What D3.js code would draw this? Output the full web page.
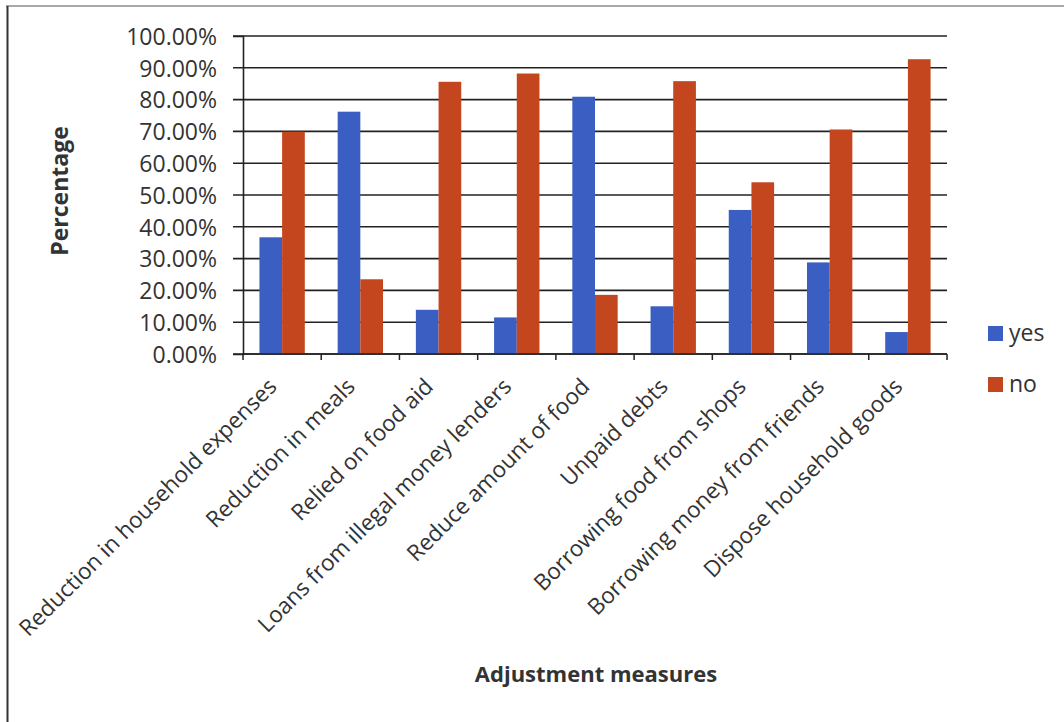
<!DOCTYPE html>
<html>
<head>
<meta charset="utf-8">
<script src="https://cdn.jsdelivr.net/npm/d3@7"></script>
<style>
  body { margin: 0; background: #fff; }
  svg text { font-family: "Open Sans", sans-serif; fill: #333; }
</style>
</head>
<body>
<svg id="drawing_region"></svg>
<script>
// data
const categories = [
  'Reduction in household expenses',
  'Reduction in meals',
  'Relied on food aid',
  'Loans from illegal money lenders',
  'Reduce amount of food',
  'Unpaid debts',
  'Borrowing food from shops',
  'Borrowing money from friends',
  'Dispose household goods'
]
const seriesNames = ['yes', 'no']
const yesValues = [36.7, 76.2, 13.9, 11.5, 80.9, 15.0, 45.3, 28.8, 6.9]
const noValues  = [69.9, 23.5, 85.6, 88.2, 18.6, 85.8, 54.0, 70.6, 92.7]
const yTicks = [0, 10, 20, 30, 40, 50, 60, 70, 80, 90, 100]
const colors = {yes: '#3b5ec2', no: '#c4461f'}

const config = {
  width: 1064,
  height: 722,
  margin: {top: 36, left: 243, right: 117, bottom: 368}
}

const svg = d3.select('#drawing_region')
  .attr('width', config.width)
  .attr('height', config.height)

// scanned page frame
svg.append('line').attr('x1', 6).attr('x2', 1064).attr('y1', 6).attr('y2', 6)
  .attr('stroke', '#555').attr('stroke-width', 1.2)
svg.append('line').attr('x1', 7.5).attr('x2', 7.5).attr('y1', 6).attr('y2', 722)
  .attr('stroke', '#333').attr('stroke-width', 2)

const innerW = config.width - config.margin.left - config.margin.right
const innerH = config.height - config.margin.top - config.margin.bottom

const chart = svg.append('g')
  .attr('transform', `translate(${config.margin.left},${config.margin.top})`)

const xscale = d3.scaleBand().domain(categories).range([0, innerW])
  .paddingInner(0.42).paddingOuter(0.21)
const xsub = d3.scaleBand().domain(seriesNames).range([0, xscale.bandwidth()])
const yscale = d3.scaleLinear().domain([0, 100]).range([innerH, 0])

// gridlines
chart.append('g')
  .selectAll('line').data(yTicks).enter().append('line')
  .attr('x1', -10).attr('x2', innerW)
  .attr('y1', d => yscale(d)).attr('y2', d => yscale(d))
  .attr('stroke', '#222').attr('stroke-width', 1.6)

// y axis
const yaxis = d3.axisLeft(yscale).tickValues(yTicks).tickSize(10)
  .tickFormat(d => d.toFixed(2) + '%')
const yaxis_group = chart.append('g').call(yaxis)
yaxis_group.select('.domain').attr('stroke', '#222').attr('stroke-width', 1.6)
yaxis_group.selectAll('.tick line').remove()
yaxis_group.selectAll('.tick text')
  .attr('x', -26).attr('dy', '0.36em')
  .attr('font-size', 23).style('font-family', '"Open Sans", sans-serif')
  .attr('fill', '#333')

// bars
const groups = chart.selectAll('.grp').data(categories).enter().append('g')
  .attr('transform', d => `translate(${xscale(d)},0)`)
groups.selectAll('rect')
  .data((d, i) => [{k: 'yes', v: yesValues[i]}, {k: 'no', v: noValues[i]}])
  .enter().append('rect')
  .attr('x', d => xsub(d.k))
  .attr('y', d => yscale(d.v))
  .attr('width', xsub.bandwidth())
  .attr('height', d => innerH - yscale(d.v))
  .attr('fill', d => colors[d.k])

// x axis with ticks on category boundaries
const xaxis_group = chart.append('g').attr('transform', `translate(0,${innerH})`)
xaxis_group.append('line').attr('x1', 0).attr('x2', innerW)
  .attr('stroke', '#222').attr('stroke-width', 1.6)
const step = xscale.step()
xaxis_group.selectAll('.xt').data(d3.range(categories.length + 1)).enter().append('line')
  .attr('x1', i => i * step).attr('x2', i => i * step)
  .attr('y1', 0).attr('y2', 6)
  .attr('stroke', '#222').attr('stroke-width', 1.5)

xaxis_group.selectAll('.xl').data(categories).enter().append('text')
  .attr('transform', d => `translate(${xscale(d) + xscale.bandwidth() / 2 - 4},${34}) rotate(-45)`)
  .attr('text-anchor', 'end')
  .attr('font-size', 22.5)
  .text(d => d)

// axis titles
svg.append('text')
  .attr('transform', `translate(68,191) rotate(-90)`)
  .attr('text-anchor', 'middle')
  .attr('font-size', 23).attr('font-weight', 'bold')
  .text('Percentage')
svg.append('text')
  .attr('x', 596).attr('y', 682)
  .attr('text-anchor', 'middle')
  .attr('font-size', 22).attr('font-weight', 'bold')
  .text('Adjustment measures')

// legend
const legend = svg.append('g').attr('transform', 'translate(988,326)')
seriesNames.forEach((s, i) => {
  legend.append('rect').attr('x', 0).attr('y', i * 51)
    .attr('width', 15).attr('height', 15).attr('fill', colors[s])
  legend.append('text').attr('x', 21).attr('y', i * 51 + 15)
    .attr('font-size', 23).text(s)
})
</script>
</body>
</html>
